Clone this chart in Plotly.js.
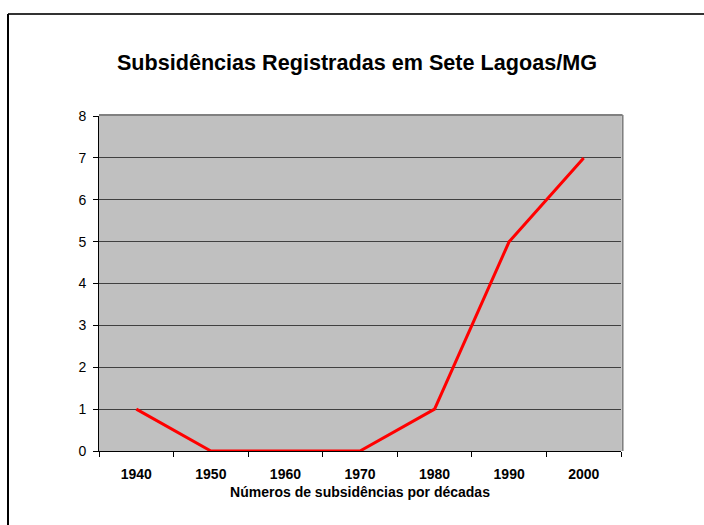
<!DOCTYPE html>
<html>
<head>
<meta charset="utf-8">
<script src="https://cdn.plot.ly/plotly-3.0.1.min.js"></script>
<style>html,body{margin:0;padding:0;background:#fff;}#chart{width:704px;height:525px;}</style>
</head>
<body>
<div id="chart"></div>
<script>
const decades = ["1940", "1950", "1960", "1970", "1980", "1990", "2000"];
const subsidences = [1, 0, 0, 0, 1, 5, 7];
const yTicks = [0, 1, 2, 3, 4, 5, 6, 7, 8];

const FONT = '"Liberation Sans", Arial, sans-serif';

const trace = {
  x: decades,
  y: subsidences,
  type: 'scatter',
  mode: 'lines',
  line: {color: '#FF0000', width: 3},
  hoverinfo: 'x+y'
};

const layout = {
  width: 704,
  height: 525,
  margin: {l: 99, r: 83, t: 116, b: 74},
  paper_bgcolor: '#FFFFFF',
  plot_bgcolor: '#C0C0C0',
  showlegend: false,
  title: {
    text: 'Subsidências Registradas em Sete Lagoas/MG',
    font: {family: FONT, size: 21.6, color: '#000000', weight: 'bold'},
    xref: 'container', x: 0.507, xanchor: 'center',
    yref: 'container', y: 1 - 62 / 525, yanchor: 'middle'
  },
  xaxis: {
    type: 'category',
    range: [-0.5, 6.5],
    tickson: 'boundaries',
    ticks: 'outside',
    ticklen: 5,
    tickcolor: '#000000',
    tickwidth: 1,
    showline: true,
    linecolor: '#000000',
    linewidth: 1,
    showgrid: false,
    zeroline: false,
    ticklabelstandoff: 10,
    tickfont: {family: FONT, size: 14, color: '#000000', weight: 'bold'},
    title: {
      text: 'Números de subsidências por décadas',
      font: {family: FONT, size: 14, color: '#000000', weight: 'bold'},
      standoff: 6
    },
    fixedrange: true
  },
  yaxis: {
    range: [0, 8],
    tickvals: yTicks,
    ticks: 'outside',
    ticklen: 5,
    tickcolor: '#000000',
    tickwidth: 1,
    showline: true,
    linecolor: '#000000',
    linewidth: 1,
    showgrid: true,
    gridcolor: '#404040',
    gridwidth: 1,
    zeroline: false,
    ticklabelstandoff: 4,
    tickfont: {family: FONT, size: 14, color: '#000000'},
    fixedrange: true
  },
  shapes: [
    {type: 'line', xref: 'paper', yref: 'paper', x0: 0, x1: 1.003, y0: 1.003, y1: 1.003,
     line: {color: '#808080', width: 2}, layer: 'above'},
    {type: 'line', xref: 'paper', yref: 'paper', x0: 1.003, x1: 1.003, y0: 0, y1: 1.003,
     line: {color: '#808080', width: 2}, layer: 'above'},
    {type: 'line', xref: 'paper', yref: 'paper',
     x0: (8 - 99) / 522, x1: 1.2, y0: (451 - 14) / 335, y1: (451 - 14) / 335,
     line: {color: '#333333', width: 2}},
    {type: 'line', xref: 'paper', yref: 'paper',
     x0: (8 - 99) / 522, x1: (8 - 99) / 522, y0: (451 - 14) / 335, y1: -0.3,
     line: {color: '#000000', width: 2}}
  ]
};

Plotly.newPlot('chart', [trace], layout, {displayModeBar: false, staticPlot: true});
</script>
</body>
</html>
